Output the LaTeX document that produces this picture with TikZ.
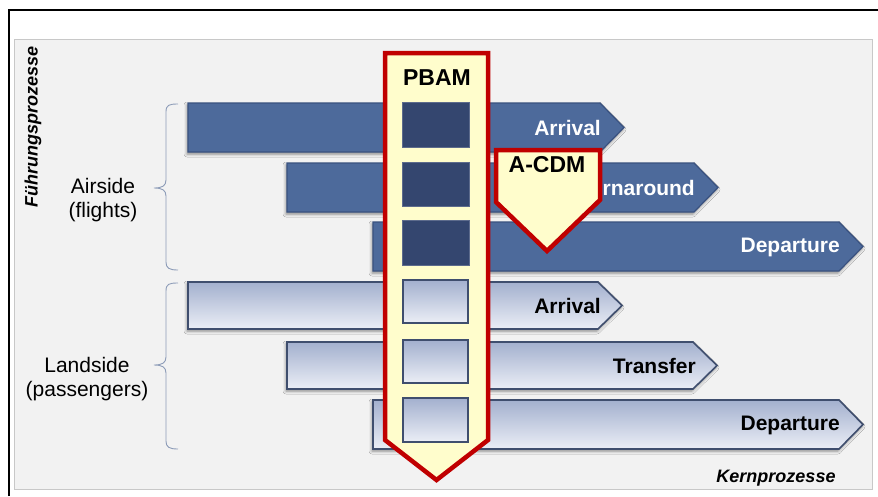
\documentclass[tikz,border=0pt]{standalone}
\usepackage{fontspec}
\setmainfont{Liberation Sans}
\usetikzlibrary{shadows.blur}
\definecolor{panelgray}{HTML}{F2F2F2}
\definecolor{panelline}{HTML}{C8C8C8}
\definecolor{barblue}{HTML}{4D6A9B}
\definecolor{barline}{HTML}{3A5280}
\definecolor{boxblue}{HTML}{34466F}
\definecolor{lighttop}{HTML}{A3B0CE}
\definecolor{lightbot}{HTML}{EBEEF6}
\definecolor{lightline}{HTML}{3F4E6E}
\definecolor{brackline}{HTML}{8D9CB8}
\definecolor{pbamred}{HTML}{C00000}
\definecolor{pbamfill}{HTML}{FFFDCC}
\tikzset{
  softshadow/.style={blur shadow={shadow xshift=-1pt, shadow yshift=-2pt, shadow blur radius=3pt, shadow opacity=45}},
  darkbar/.style={fill=barblue, draw=barline, line width=1.2pt, softshadow},
  lightbar/.style={top color=lighttop, bottom color=lightbot, draw=lightline, line width=1.6pt, softshadow},
  darkbox/.style={fill=boxblue, draw=boxblue!80!white, line width=0.8pt},
  lightbox/.style={top color=lighttop, bottom color=lightbot, draw=lightline, line width=1.6pt},
  redarrow/.style={fill=pbamfill, draw=pbamred, line width=4.5pt, line join=miter},
  whitelabel/.style={anchor=east, inner sep=0pt, text=white, font=\fontsize{21}{25}\selectfont\bfseries},
  blacklabel/.style={anchor=east, inner sep=0pt, text=black, font=\fontsize{21}{25}\selectfont\bfseries},
  boxtitle/.style={inner sep=0pt, text=black, font=\fontsize{23}{27}\selectfont\bfseries},
  sidelabel/.style={align=center, inner sep=0pt, font=\fontsize{21}{24.5}\selectfont},
  axislabel/.style={inner sep=0pt, font=\fontsize{18}{20}\selectfont\bfseries\itshape},
  bracket/.style={draw=brackline, line width=0.9pt}
}
\begin{document}
\begin{tikzpicture}[x=1pt, y=-1pt]
\useasboundingbox (0,0) rectangle (878,496);
\fill[white] (0,0) rectangle (878,496);
% frame and panel
\draw[line width=2pt] (9,496) -- (9,10) -- (878,10);
\draw[fill=panelgray, draw=panelline, line width=1pt] (14,39) rectangle (872,489);

% airside process bars
\path[darkbar] (188,103) -- (600,103) -- (624,127.5) -- (600,152) -- (188,152) -- cycle;
\path[darkbar] (287,163) -- (694,163) -- (718,187.5) -- (694,212) -- (287,212) -- cycle;
\path[darkbar] (373,222) -- (839,222) -- (863,246.5) -- (839,271) -- (373,271) -- cycle;
% landside process bars
\path[lightbar] (188,282) -- (598,282) -- (622,305.5) -- (598,329) -- (188,329) -- cycle;
\path[lightbar] (287,342) -- (693,342) -- (717,365.5) -- (693,389) -- (287,389) -- cycle;
\path[lightbar] (373,400) -- (839,400) -- (863,424.5) -- (839,449) -- (373,449) -- cycle;

% bar labels
\node[whitelabel] (arrA) at (601,128) {Arrival};
\node[whitelabel] (turnA) at (695,188) {Turnaround};
\node[whitelabel] (depA) at (840,247) {Departure};
\node[blacklabel] (arrL) at (601,306) {Arrival};
\node[blacklabel] (transL) at (696,366) {Transfer};
\node[blacklabel] (depL) at (840,425) {Departure};

% PBAM arrow with its boxes
\path[redarrow] (385,53) -- (488,53) -- (488,440) -- (436.5,480) -- (385,440) -- cycle;
\node[boxtitle] (pbam) at (437,78) {PBAM};
\path[darkbox] (402,102) rectangle (469,147);
\path[darkbox] (402,162) rectangle (469,206);
\path[darkbox] (402,220) rectangle (469,265);
\path[lightbox] (403,280) rectangle (468,323);
\path[lightbox] (403,340) rectangle (468,383);
\path[lightbox] (403,398) rectangle (468,442);

% A-CDM arrow
\path[redarrow] (496,150) -- (600,150) -- (600,200) -- (547,251) -- (496,202) -- cycle;
\node[boxtitle] (acdm) at (547,165) {A-CDM};

% brackets
\path[bracket] (178,104) .. controls (169,104) and (166,105) .. (166,112) -- (166,180)
  .. controls (166,186) and (162,188) .. (154,188)
  .. controls (162,188) and (166,190) .. (166,196) -- (166,262)
  .. controls (166,268) and (169,270) .. (178,270);
\path[bracket] (178,283) .. controls (169,283) and (166,284) .. (166,291) -- (166,357)
  .. controls (166,363) and (162,365) .. (154,365)
  .. controls (162,365) and (166,367) .. (166,373) -- (166,441)
  .. controls (166,447) and (169,449) .. (178,449);

% side labels
\node[sidelabel] (airside) at (103,200) {Airside\\(flights)};
\node[sidelabel] (landside) at (87,379) {Landside\\(passengers)};
\node[axislabel, rotate=90] (fuehr) at (33,127) {Führungsprozesse};
\node[axislabel] (kern) at (776,478) {Kernprozesse};
\end{tikzpicture}
\end{document}
